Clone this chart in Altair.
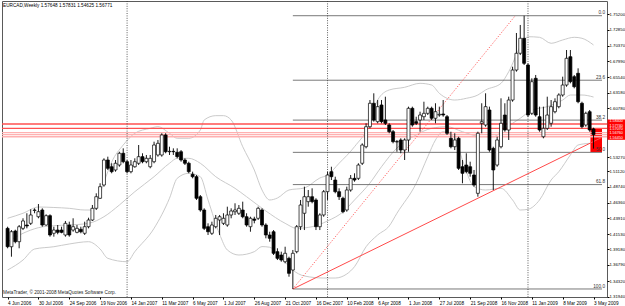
import altair as alt
import pandas as pd

# ---------------- data ----------------
open_ = [1.4240, 1.3958, 1.4199, 1.4035, 1.4240, 1.4291, 1.4317, 1.4514, 1.4418, 1.4521,
         1.4291, 1.4434, 1.4164, 1.4214, 1.4214, 1.4138, 1.4291, 1.4214, 1.4179, 1.4225,
         1.4164, 1.4265, 1.4368, 1.4547, 1.4701, 1.4905, 1.5288, 1.5185, 1.5135, 1.5211,
         1.5391, 1.5262, 1.5109, 1.5185, 1.5238, 1.5339, 1.5262, 1.5185, 1.5262, 1.5365,
         1.5365, 1.5672, 1.5415, 1.5421, 1.5406, 1.5415, 1.5288, 1.5238, 1.5069, 1.5032,
         1.4725, 1.4521, 1.4265, 1.4164, 1.4265, 1.4368, 1.4317, 1.4291, 1.4445, 1.4495,
         1.4471, 1.4521, 1.4418, 1.4265, 1.4383, 1.4394, 1.4521, 1.4291, 1.4138, 1.4188,
         1.3882, 1.3831, 1.3728, 1.3780, 1.3601, 1.3882, 1.4265, 1.4471, 1.4649, 1.4725,
         1.4675, 1.4265, 1.4445, 1.4802, 1.5109, 1.4981, 1.4802, 1.4701, 1.4521, 1.4828,
         1.5007, 1.5007, 1.5238, 1.5492, 1.5799, 1.6158, 1.5876, 1.6132, 1.5902, 1.5825,
         1.5722, 1.5569, 1.5595, 1.5441, 1.5595, 1.6081, 1.5876, 1.5902, 1.5952, 1.6004,
         1.6081, 1.5928, 1.5978, 1.5994, 1.5952, 1.5621, 1.5492, 1.5621, 1.5185, 1.5211,
         1.5185, 1.5058, 1.4777, 1.5851, 1.5825, 1.6055, 1.5467, 1.5211, 1.5492, 1.5978,
         1.5748, 1.6208, 1.6668, 1.6925, 1.7155, 1.6745, 1.6004, 1.6541, 1.5952, 1.5645,
         1.5774, 1.5851, 1.6029, 1.6106, 1.6285, 1.6438, 1.6872, 1.6566, 1.6618, 1.6158,
         1.5825, 1.6029, 1.57648]
high = [1.4265, 1.4214, 1.4219, 1.4291, 1.4394, 1.4471, 1.4532, 1.4547, 1.4613, 1.4547,
        1.4455, 1.4455, 1.4265, 1.4291, 1.4265, 1.4353, 1.4342, 1.4394, 1.4291, 1.4265,
        1.4342, 1.4403, 1.4598, 1.4777, 1.4931, 1.5314, 1.5339, 1.5238, 1.5288, 1.5415,
        1.5467, 1.5288, 1.5288, 1.5314, 1.5518, 1.5391, 1.5365, 1.5365, 1.5569, 1.5595,
        1.5698, 1.5698, 1.5492, 1.5467, 1.5467, 1.5441, 1.5314, 1.5262, 1.5109, 1.5058,
        1.4751, 1.4547, 1.4317, 1.4342, 1.4445, 1.4445, 1.4471, 1.4572, 1.4547, 1.4624,
        1.4598, 1.4649, 1.4471, 1.4418, 1.4418, 1.4572, 1.4547, 1.4317, 1.4188, 1.4214,
        1.3934, 1.3882, 1.3958, 1.3805, 1.3908, 1.4291, 1.4675, 1.4879, 1.4828, 1.4854,
        1.4701, 1.4471, 1.4828, 1.5109, 1.5185, 1.5032, 1.4854, 1.4725, 1.4879, 1.5058,
        1.5084, 1.5238, 1.5544, 1.5851, 1.6208, 1.6311, 1.6208, 1.6208, 1.6259, 1.5851,
        1.5748, 1.5595, 1.5621, 1.5621, 1.6106, 1.6106, 1.5952, 1.6029, 1.6182, 1.6106,
        1.6106, 1.6158, 1.6106, 1.6208, 1.5978, 1.5722, 1.5698, 1.5645, 1.5288, 1.5391,
        1.5262, 1.5135, 1.5722, 1.6158, 1.6311, 1.6106, 1.5492, 1.5645, 1.6234, 1.6158,
        1.6259, 1.6719, 1.7236, 1.7359, 1.7501, 1.6771, 1.6541, 1.6592, 1.6106, 1.6106,
        1.6259, 1.6208, 1.6234, 1.6311, 1.6566, 1.6975, 1.6975, 1.6592, 1.6694, 1.6182,
        1.6029, 1.6055, 1.57831]
low = [1.3934, 1.3805, 1.4010, 1.3934, 1.4214, 1.4240, 1.4291, 1.4471, 1.4394, 1.4265,
       1.4280, 1.4112, 1.4112, 1.4149, 1.4164, 1.4112, 1.4112, 1.4188, 1.4164, 1.4164,
       1.4138, 1.4240, 1.4353, 1.4521, 1.4690, 1.4879, 1.5135, 1.5084, 1.5109, 1.5185,
       1.5238, 1.5084, 1.5084, 1.5170, 1.5211, 1.5238, 1.5238, 1.5161, 1.5238, 1.5339,
       1.5339, 1.5391, 1.5365, 1.5365, 1.5314, 1.5262, 1.5211, 1.5084, 1.5007, 1.4675,
       1.4495, 1.4214, 1.4138, 1.4138, 1.4240, 1.4138, 1.4291, 1.4265, 1.4394, 1.4445,
       1.4445, 1.4394, 1.4265, 1.4188, 1.4317, 1.4368, 1.4265, 1.4087, 1.4035, 1.3831,
       1.3754, 1.3728, 1.3704, 1.3498, 1.3310, 1.3857, 1.4214, 1.4214, 1.4572, 1.4624,
       1.4214, 1.4214, 1.4418, 1.4675, 1.4981, 1.4777, 1.4675, 1.4471, 1.4495, 1.4802,
       1.4955, 1.4981, 1.5211, 1.5467, 1.5774, 1.5876, 1.5851, 1.5851, 1.5825, 1.5698,
       1.5544, 1.5415, 1.5391, 1.5288, 1.5415, 1.5799, 1.5825, 1.5722, 1.5902, 1.5978,
       1.5902, 1.5851, 1.5952, 1.5952, 1.5672, 1.5467, 1.5441, 1.5135, 1.4931, 1.5084,
       1.5032, 1.4879, 1.4725, 1.5698, 1.5799, 1.5415, 1.4828, 1.5185, 1.5467, 1.5722,
       1.5595, 1.6182, 1.6643, 1.6898, 1.6745, 1.5952, 1.5978, 1.5952, 1.5722, 1.5621,
       1.5748, 1.5799, 1.6004, 1.6081, 1.6259, 1.6412, 1.6464, 1.6387, 1.6158, 1.5774,
       1.5799, 1.5722, 1.54625]
close = [1.3958, 1.4188, 1.4035, 1.4265, 1.4353, 1.4276, 1.4445, 1.4521, 1.4495, 1.4291,
         1.4434, 1.4138, 1.4214, 1.4179, 1.4179, 1.4317, 1.4138, 1.4265, 1.4240, 1.4188,
         1.4265, 1.4368, 1.4547, 1.4725, 1.4879, 1.5288, 1.5161, 1.5109, 1.5238, 1.5391,
         1.5262, 1.5109, 1.5211, 1.5262, 1.5339, 1.5262, 1.5314, 1.5314, 1.5518, 1.5544,
         1.5672, 1.5415, 1.5421, 1.5415, 1.5339, 1.5288, 1.5238, 1.5109, 1.5032, 1.4701,
         1.4521, 1.4240, 1.4188, 1.4291, 1.4394, 1.4418, 1.4394, 1.4445, 1.4506, 1.4521,
         1.4547, 1.4418, 1.4291, 1.4394, 1.4363, 1.4547, 1.4291, 1.4138, 1.4087, 1.3857,
         1.3780, 1.3754, 1.3857, 1.3550, 1.3857, 1.4265, 1.4598, 1.4725, 1.4725, 1.4649,
         1.4265, 1.4445, 1.4802, 1.5058, 1.5032, 1.4802, 1.4725, 1.4495, 1.4828, 1.5007,
         1.4981, 1.5211, 1.5518, 1.5799, 1.6158, 1.5902, 1.6106, 1.5876, 1.5851, 1.5722,
         1.5569, 1.5566, 1.5441, 1.5595, 1.6081, 1.5825, 1.5851, 1.5978, 1.6004, 1.6081,
         1.5928, 1.6029, 1.5989, 1.5978, 1.5698, 1.5492, 1.5595, 1.5161, 1.5084, 1.5109,
         1.5084, 1.4905, 1.5698, 1.5876, 1.6106, 1.5441, 1.5135, 1.5595, 1.5851, 1.5748,
         1.6208, 1.6668, 1.6925, 1.7155, 1.6771, 1.5978, 1.6489, 1.5978, 1.5748, 1.5774,
         1.5978, 1.6106, 1.6182, 1.6285, 1.6438, 1.6848, 1.6489, 1.6412, 1.6182, 1.5799,
         1.6004, 1.5748, 1.56771]

date_labels = ["4 Jun 2006", "30 Jul 2006", "24 Sep 2006", "19 Nov 2006", "14 Jan 2007",
               "11 Mar 2007", "6 May 2007", "1 Jul 2007", "26 Aug 2007", "21 Oct 2007",
               "16 Dec 2007", "10 Feb 2008", "6 Apr 2008", "1 Jun 2008", "27 Jul 2008",
               "21 Sep 2008", "16 Nov 2008", "11 Jan 2009", "8 Mar 2009", "3 May 2009"]
date_bars = [0, 8, 16, 24, 32, 40, 48, 56, 64, 72, 80, 88, 96, 104, 112, 120, 128, 136, 144, 152]

price_ticks = [1.75200, 1.72850, 1.70370, 1.67990, 1.65540, 1.63180, 1.60780, 1.53270,
               1.51120, 1.48740, 1.46360, 1.43910, 1.41530, 1.39180, 1.36790, 1.34320, 1.31940]

upper_bar = [0, 4, 8, 12, 16, 20, 22, 25, 27, 30, 33, 37, 39, 42, 44, 47, 50, 51, 54, 56, 58,
             61, 64, 66, 68, 70, 73, 77, 81, 83, 86, 90, 94, 96, 99, 103, 107, 110, 112, 116,
             119, 122, 124, 128, 130, 133, 135, 138, 141, 144, 147, 149, 152]
upper_val = [1.4394, 1.4471, 1.4567, 1.4560, 1.4547, 1.4521, 1.4521, 1.4951, 1.5257, 1.5518,
             1.5698, 1.5774, 1.5799, 1.5698, 1.5621, 1.5621, 1.5748, 1.5902, 1.5968, 1.5968,
             1.5902, 1.5492, 1.5135, 1.4828, 1.4675, 1.4705, 1.4828, 1.4859, 1.5012, 1.5058,
             1.5238, 1.5492, 1.5851, 1.6208, 1.6362, 1.6403, 1.6464, 1.6438, 1.6311, 1.6208,
             1.6234, 1.6285, 1.6362, 1.6464, 1.6642, 1.7026, 1.7179, 1.7170, 1.7078, 1.7129,
             1.7170, 1.7155, 1.7052]
middle_bar = [0, 4, 8, 12, 16, 21, 25, 29, 33, 38, 42, 44, 47, 50, 54, 59, 62, 67, 72, 75,
              79, 83, 87, 90, 94, 97, 101, 106, 110, 114, 118, 123, 126, 129, 133, 136, 140,
              144, 146, 149, 152]
middle_val = [1.4035, 1.4164, 1.4250, 1.4280, 1.4291, 1.4317, 1.4418, 1.4598, 1.4802, 1.5032,
              1.5238, 1.5314, 1.5314, 1.5238, 1.5032, 1.4854, 1.4725, 1.4506, 1.4317, 1.4240,
              1.4265, 1.4353, 1.4491, 1.4675, 1.4935, 1.5185, 1.5472, 1.5672, 1.5774, 1.5799,
              1.5722, 1.5645, 1.5645, 1.5774, 1.5928, 1.6055, 1.6106, 1.6208, 1.6285, 1.6285,
              1.6254]
lower_bar = [0, 4, 7, 12, 16, 21, 24, 26, 31, 33, 38, 42, 44, 47, 50, 52, 55, 57, 60, 64,
             66, 68, 70, 72, 74, 77, 82, 85, 88, 90, 93, 96, 99, 101, 106, 109, 111, 113, 116,
             118, 121, 124, 128, 131, 133, 135, 138, 141, 143, 146, 148, 151]
lower_val = [1.3601, 1.3754, 1.3923, 1.3958, 1.4000, 1.4035, 1.3923, 1.3780, 1.3728, 1.3882,
             1.4240, 1.4701, 1.5007, 1.5084, 1.5032, 1.4675, 1.4150, 1.3908, 1.3831, 1.3882,
             1.3960, 1.3950, 1.3850, 1.3720, 1.3600, 1.3509, 1.3478, 1.3478, 1.3540, 1.3652,
             1.3958, 1.4138, 1.4276, 1.4471, 1.4931, 1.5339, 1.5595, 1.5722, 1.5626, 1.5288,
             1.4879, 1.4828, 1.4854, 1.4675, 1.4521, 1.4532, 1.4675, 1.4981, 1.5109, 1.5365,
             1.5518, 1.5544]

fib_high = 1.7501
fib_low = 1.3310
fib_start_bar = 74
fib_levels = [0.0, 23.6, 38.2, 50.0, 61.8, 100.0]
fib_names = ["0.0", "23.6", "38.2", "50.0", "61.8", "100.0"]

red_line_prices = [1.5840, 1.5774, 1.5707, 1.5676, 1.5645]
red_line_strong = [True, True, False, False, False]
red_label_texts = ["1.58400", "1.57740", "1.57070", "1.56760", "1.56450"]
red_label_slots = [1.5879, 1.5817, 1.5756, 1.5695, 1.5633]

year_bars = [31, 83, 135]

trend_bar = [74, 154.2]
trend_val = [1.3310, 1.5635]
fan_bar = [74, 131.7]
fan_val = [1.3310, 1.7501]

box_bar = [151.2, 154.2]
box_val = [1.5411, 1.5779]
axis_box_val = [1.5598, 1.5909]

title_text = "EURCAD,Weekly  1.57648 1.57831 1.54625 1.56771"
copyright_text = "MetaTrader, \u00a9 2001-2008 MetaQuotes Software Corp."

# ---------------- build ----------------
FONT = "Liberation Sans"
FS = 4.7
X_DOMAIN = [-0.153, 154.2]
Y_DOMAIN = [1.31869, 1.77267]
xs = alt.Scale(domain=X_DOMAIN, nice=False, zero=False)
ys = alt.Scale(domain=Y_DOMAIN, nice=False, zero=False)

label_js = "[" + ",".join("'" + s + "'" for s in date_labels) + "]"
x_axis = alt.Axis(values=date_bars, labelExpr=label_js + "[round(datum.value/8)]",
                  labelAlign="left", labelBaseline="top", labelFontSize=FS, labelFont=FONT,
                  labelColor="#000", tickColor="#000", tickSize=2, labelPadding=1.2,
                  domain=False, grid=False, title=None, labelOverlap=False, labelFlush=False)
y_axis = alt.Axis(orient="right", values=price_ticks, format=".5f", labelFontSize=4.3,
                  labelFont=FONT, labelColor="#000", tickColor="#000", tickSize=2,
                  labelPadding=0, domain=False, grid=False, title=None,
                  labelOverlap=False, labelFlush=False, labelBaseline="middle")


def X(field):
    return alt.X(field, scale=xs, axis=x_axis, title=None)


def Y(field):
    return alt.Y(field, scale=ys, axis=y_axis, title=None)


n = len(open_)
candles = pd.DataFrame({"i": list(range(n)), "o": open_, "h": high, "l": low, "c": close})
candles["top"] = candles[["o", "c"]].max(axis=1)
candles["bot"] = candles[["o", "c"]].min(axis=1)
candles["fill"] = ["#ffffff" if c >= o else "#000000" for o, c in zip(open_, close)]

bands = pd.concat([
    pd.DataFrame({"i": upper_bar, "v": upper_val, "b": "upper"}),
    pd.DataFrame({"i": middle_bar, "v": middle_val, "b": "middle"}),
    pd.DataFrame({"i": lower_bar, "v": lower_val, "b": "lower"}),
])

box_df = pd.DataFrame({"i": [box_bar[0]], "i2": [box_bar[1]], "v": [box_val[0]], "v2": [box_val[1]]})
red_box = alt.Chart(box_df).mark_rect(color="#ff0000").encode(
    x=X("i:Q"), x2="i2:Q", y=Y("v:Q"), y2="v2:Q")

band_layer = alt.Chart(bands).mark_line(color="#c4c4c4", strokeWidth=0.9, interpolate="monotone").encode(
    x=X("i:Q"), y=Y("v:Q"), detail="b:N")

red_df = pd.DataFrame({"v": red_line_prices,
                       "col": ["#ff5050" if s else "#ffb0b0" for s in red_line_strong]})
red_lines = alt.Chart(red_df).mark_rule(strokeWidth=1.3).encode(
    y=Y("v:Q"), color=alt.Color("col:N", scale=None))

fib_df = pd.DataFrame({"name": fib_names,
                       "v": [fib_high - lv / 100.0 * (fib_high - fib_low) for lv in fib_levels],
                       "i": fib_start_bar, "i2": X_DOMAIN[1]})
fib_lines = alt.Chart(fib_df).mark_rule(color="#6a6a6a", strokeWidth=0.9).encode(
    x=X("i:Q"), x2="i2:Q", y=Y("v:Q"))
fib_text = alt.Chart(fib_df).mark_text(align="right", baseline="bottom", fontSize=FS, font=FONT,
                                       color="#333", dy=-0.3).encode(
    x=alt.value(603), y=Y("v:Q"), text="name:N")

vl = alt.Chart(pd.DataFrame({"i": year_bars})).mark_rule(
    color="#333", strokeWidth=0.8, strokeDash=[1, 1.4]).encode(x=X("i:Q"))

trend = alt.Chart(pd.DataFrame({"i": trend_bar, "v": trend_val})).mark_line(
    color="#ff4a4a", strokeWidth=1).encode(x=X("i:Q"), y=Y("v:Q"))
fan = alt.Chart(pd.DataFrame({"i": fan_bar, "v": fan_val})).mark_line(
    color="#ff5050", strokeWidth=0.9, strokeDash=[1.2, 1.6]).encode(x=X("i:Q"), y=Y("v:Q"))

wicks = alt.Chart(candles).mark_rule(color="#000", strokeWidth=0.9).encode(
    x=X("i:Q"), y=Y("l:Q"), y2="h:Q")
bodies = alt.Chart(candles).mark_bar(size=3, stroke="#000", strokeWidth=0.7).encode(
    x=X("i:Q"), y=Y("bot:Q"), y2="top:Q", fill=alt.Fill("fill:N", scale=None))

ab_df = pd.DataFrame({"v": [axis_box_val[0]], "v2": [axis_box_val[1]]})
axis_box = alt.Chart(ab_df).mark_rect(color="#ff0000").encode(
    x=alt.value(605.5), x2=alt.value(623), y=Y("v:Q"), y2="v2:Q")
axis_red_text = alt.Chart(pd.DataFrame({"v": red_label_slots, "t": red_label_texts})).mark_text(
    align="left", baseline="middle", fontSize=3.7, font=FONT, color="#ffffff").encode(
    x=alt.value(607.5), y=Y("v:Q"), text="t:N")

title = alt.Chart(pd.DataFrame({"t": [title_text]})).mark_text(
    align="left", baseline="middle", fontSize=FS, font=FONT, color="#000").encode(
    x=alt.value(1), y=alt.value(4.8), text="t:N")
copyright = alt.Chart(pd.DataFrame({"t": [copyright_text]})).mark_text(
    align="left", baseline="middle", fontSize=FS, font=FONT, color="#222").encode(
    x=alt.value(1), y=alt.value(292.3), text="t:N")

chart = alt.layer(
    red_box, band_layer, red_lines, fib_lines, vl, trend, fan, wicks, bodies,
    fib_text, axis_box, axis_red_text, title, copyright
).properties(
    width=605, height=296,
    padding={"left": 2, "top": 1, "right": 18, "bottom": 9},
    autosize=alt.AutoSizeParams(type="none"),
    background="#ffffff",
).configure_view(stroke="#5a5a5a", strokeWidth=1)

chart.save("out.html", embed_options={"renderer": "svg", "actions": False})
